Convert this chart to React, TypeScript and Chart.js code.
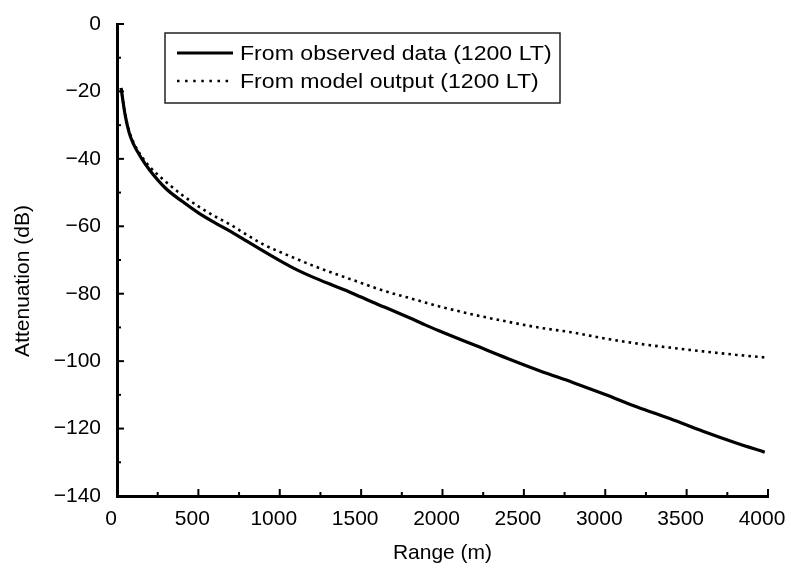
import React, { useEffect, useRef } from "react";
import { Chart, registerables } from "chart.js";

Chart.register(...registerables);

const rangeM = [25, 50, 75, 100, 150, 200, 300, 400, 500, 600, 700, 800, 900, 1000, 1100, 1200, 1300, 1400, 1500, 1600, 1700, 1800, 1900, 2000, 2200, 2400, 2600, 2800, 3000, 3200, 3400, 3600, 3800, 3980];
const observedDb = [-19, -27, -32.3, -35.5, -39.8, -43.3, -48.8, -52.6, -56, -58.9, -61.6, -64.5, -67.4, -70.2, -72.8, -75, -77, -78.9, -81, -83.1, -85.1, -87.2, -89.4, -91.4, -95.3, -99.2, -102.9, -106.3, -109.9, -113.7, -117.1, -120.8, -124.2, -127];
const modelDb = [-19, -26.8, -31.8, -35, -39.2, -42.3, -46.8, -50.7, -54.1, -57, -59.6, -62.6, -65.4, -67.6, -69.6, -71.6, -73.4, -75.1, -76.8, -78.5, -80, -81.3, -82.7, -84, -86.3, -88.3, -90.1, -91.5, -93.3, -94.8, -96, -97.1, -98.1, -98.9];

const seriesLabels = ["From observed data (1200 LT)", "From model output (1200 LT)"];
const xTitle = "Range (m)";
const yTitle = "Attenuation (dB)";
const xMin = 0, xMax = 4000, xStep = 500;
const yMin = -140, yMax = 0, yStep = 20;

const FONT = "'Liberation Sans', Arial, Helvetica, sans-serif";

const decorPlugin = {
  id: "decor",
  afterDraw(chart: any) {
    const { ctx, chartArea, scales } = chart;
    const xs = scales.x, ys = scales.y;
    ctx.save();
    ctx.strokeStyle = "#000";
    ctx.lineWidth = 2;
    // inward ticks on x
    for (let v = xMin; v <= xMax; v += xStep / 2) {
      const px = xs.getPixelForValue(v);
      const len = v % xStep === 0 ? 7 : 4;
      ctx.beginPath();
      ctx.moveTo(px, chartArea.bottom);
      ctx.lineTo(px, chartArea.bottom - len);
      ctx.stroke();
    }
    // inward ticks on y
    for (let v = yMin; v <= yMax; v += yStep / 2) {
      const py = ys.getPixelForValue(v);
      const len = v % yStep === 0 ? 7 : 4;
      ctx.beginPath();
      ctx.moveTo(chartArea.left, py);
      ctx.lineTo(chartArea.left + len, py);
      ctx.stroke();
    }
    // axis titles
    ctx.fillStyle = "#000";
    ctx.font = `21px ${FONT}`;
    ctx.textAlign = "center";
    ctx.textBaseline = "middle";
    ctx.fillText(xTitle, (chartArea.left + chartArea.right) / 2, 553);
    ctx.save();
    ctx.translate(23, 281);
    ctx.rotate(-Math.PI / 2);
    ctx.fillText(yTitle, 0, 0);
    ctx.restore();

    // legend box
    const bx = 165, by = 33, bw = 395, bh = 70;
    ctx.lineWidth = 1.5;
    ctx.strokeStyle = "#222";
    ctx.strokeRect(bx, by, bw, bh);
    const rows = [53, 81];
    chart.data.datasets.forEach((ds: any, i: number) => {
      const ry = rows[i];
      ctx.save();
      ctx.strokeStyle = "#000";
      ctx.lineWidth = ds.borderWidth;
      ctx.setLineDash(ds.borderDash ? [2.5, 5.6] : []);
      ctx.beginPath();
      ctx.moveTo(177, ry);
      ctx.lineTo(233, ry);
      ctx.stroke();
      ctx.restore();
      ctx.save();
      ctx.font = `21px ${FONT}`;
      ctx.textAlign = "left";
      ctx.textBaseline = "middle";
      ctx.fillStyle = "#000";
      ctx.translate(240, ry + 1);
      ctx.scale(1.1, 1);
      ctx.fillText(ds.label, 0, 0);
      ctx.restore();
    });
    ctx.restore();
  },
};

export default function App() {
  const canvasRef = useRef<HTMLCanvasElement | null>(null);

  useEffect(() => {
    const canvas = canvasRef.current;
    if (!canvas) return;
    const chart = new Chart(canvas, {
      type: "line",
      data: {
        datasets: [
          {
            label: seriesLabels[0],
            data: rangeM.map((r, i) => ({ x: r, y: observedDb[i] })),
            borderColor: "#000",
            borderWidth: 3.2,
            pointRadius: 0,
            cubicInterpolationMode: "monotone",
            fill: false,
          },
          {
            label: seriesLabels[1],
            data: rangeM.map((r, i) => ({ x: r, y: modelDb[i] })),
            borderColor: "#000",
            borderWidth: 2.6,
            borderDash: [2.6, 4.1],
            pointRadius: 0,
            cubicInterpolationMode: "monotone",
            fill: false,
          },
        ],
      },
      options: {
        responsive: false,
        animation: false,
        layout: { padding: { left: 0, right: 23, top: 24, bottom: 0 } },
        plugins: { legend: { display: false }, tooltip: { enabled: false } },
        scales: {
          x: {
            type: "linear",
            min: xMin,
            max: xMax,
            grid: { display: false, drawTicks: false },
            border: { display: true, color: "#000", width: 3 },
            ticks: {
              stepSize: xStep,
              color: "#000",
              padding: 11,
              labelOffset: -6,
              font: { family: FONT, size: 21 },
              maxRotation: 0,
              callback: (v: any) => String(v),
            },
            afterFit: (s: any) => {
              s.height = 80;
              s.paddingLeft = 0;
              s.paddingRight = 0;
            },
          },
          y: {
            type: "linear",
            min: yMin,
            max: yMax,
            grid: { display: false, drawTicks: false },
            border: { display: true, color: "#000", width: 3 },
            ticks: {
              stepSize: yStep,
              color: "#000",
              padding: 16,
              font: { family: FONT, size: 21 },
              callback: (v: any) => String(v).replace("-", "\u2212"),
            },
            afterFit: (s: any) => {
              s.width = 117;
              s.paddingTop = 0;
              s.paddingBottom = 0;
            },
          },
        },
      },
      plugins: [decorPlugin],
    });
    return () => chart.destroy();
  }, []);

  return (
    <div style={{ position: "absolute", left: 0, top: 0, width: 791, height: 576, background: "#fff" }}>
      <canvas ref={canvasRef} width={791} height={576} />
    </div>
  );
}
